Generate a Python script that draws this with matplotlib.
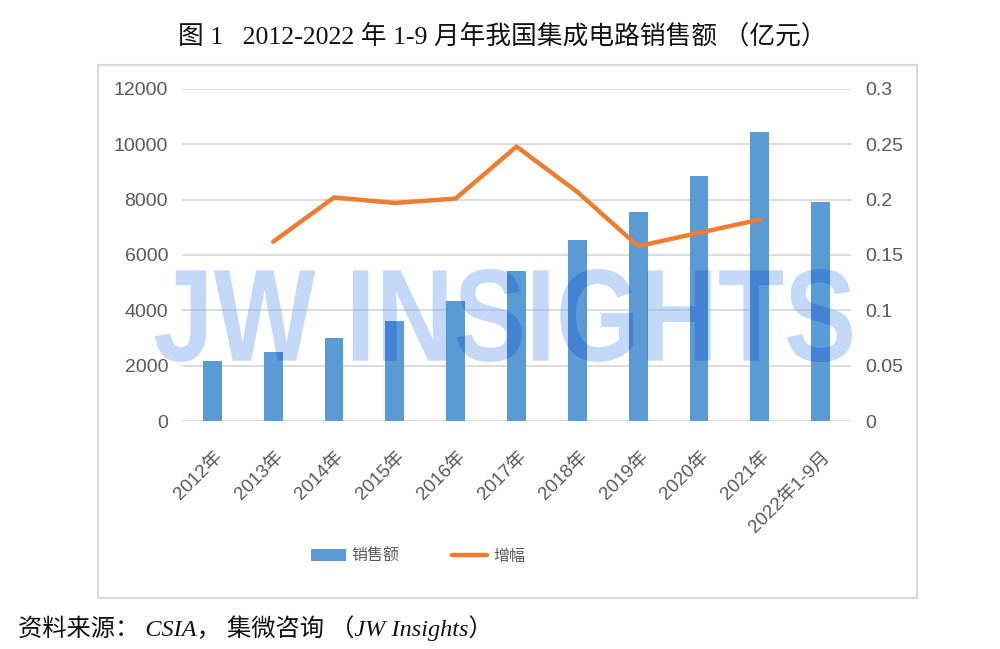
# 2012-2022 China IC sales with YoY growth, JW Insights style

import numpy as np
import matplotlib
matplotlib.use('Agg')
import matplotlib.pyplot as plt
from matplotlib.font_manager import FontProperties
from matplotlib.textpath import TextPath
from matplotlib.patches import PathPatch, Rectangle, Patch
from matplotlib.path import Path
from matplotlib.lines import Line2D
from matplotlib.transforms import Affine2D

labels = ['2012年', '2013年', '2014年', '2015年', '2016年', '2017年',
          '2018年', '2019年', '2020年', '2021年', '2022年1-9月']
sales = [2158.5, 2508.5, 3015.4, 3609.8, 4335.5, 5411.3,
         6532.0, 7562.3, 8848.0, 10458.3, 7902.5]
growth = [np.nan, 0.162, 0.202, 0.197, 0.201, 0.248,
          0.207, 0.158, 0.170, 0.182, np.nan]
left_ticks = [0, 2000, 4000, 6000, 8000, 10000, 12000]
right_ticks = [0, 0.05, 0.1, 0.15, 0.2, 0.25, 0.3]
right_tick_labels = ['0', '0.05', '0.1', '0.15', '0.2', '0.25', '0.3']

BLUE = '#5b9bd5'
ORANGE = '#ed7d31'
GREY = '#595959'
GRID = '#d9d9d9'

plt.rcParams['font.family'] = ['Liberation Sans', 'Noto Sans CJK SC']

fig = plt.figure(figsize=(10, 6.49), dpi=100)

# outer frame
fig.add_artist(Rectangle((0.098, 1 - 598 / 649), 0.819, (598 - 65) / 649,
                         transform=fig.transFigure, fill=False,
                         ec=GRID, lw=1.5))

ax = fig.add_axes([0.182, 1 - 421 / 649, 0.669, 332 / 649])
ax2 = ax.twinx()

x = np.arange(len(labels))
bars = ax.bar(x, sales, width=0.31, color=BLUE, zorder=2)
ax.set_xlim(-0.5, len(labels) - 0.5)
ax.set_ylim(0, 12000)
ax.set_yticks(left_ticks)
ax.grid(axis='y', color=GRID, lw=1.3, zorder=0)
ax.set_axisbelow(True)

ax2.plot(x, growth, color=ORANGE, lw=3.2, solid_capstyle='round',
         solid_joinstyle='round')
ax2.set_ylim(0, 0.3)
ax2.set_yticks(right_ticks, right_tick_labels)

for a in (ax, ax2):
    for s in a.spines.values():
        s.set_visible(False)
    a.tick_params(axis='y', length=0, pad=10, labelsize=14, labelcolor=GREY)

ax.set_xticks(x + 0.12, labels, rotation=45, ha='right', va='center',
              rotation_mode='anchor')
ax.tick_params(axis='x', length=0, pad=24, labelsize=13.5, labelcolor=GREY)

# watermark, darker where it crosses the bars
tp = TextPath((0, 0), 'JW INSIGHTS', size=1,
              prop=FontProperties(family='Liberation Sans', weight='bold'))
bb = tp.get_extents()
x0, x1 = 0.155, 0.852
y0, y1 = 1 - 362 / 649, 1 - 269 / 649
tr = (Affine2D().translate(-bb.x0, -bb.y0)
      .scale((x1 - x0) / bb.width, (y1 - y0) / bb.height)
      .translate(x0, y0) + fig.transFigure)
wm1 = PathPatch(tp, transform=tr, facecolor='#8ab4f1', alpha=0.5, lw=0,
                zorder=1, clip_on=False)
ax.add_artist(wm1)
wm2 = PathPatch(tp, transform=tr, facecolor='#4483d4', lw=0, zorder=2.5)
ax.add_artist(wm2)
rects = []
for r in bars:
    bx, by, bw, bh = r.get_x(), r.get_y(), r.get_width(), r.get_height()
    rects.append(Path([(bx, by), (bx + bw, by), (bx + bw, by + bh),
                       (bx, by + bh), (bx, by)], closed=True))
wm2.set_clip_path(Path.make_compound_path(*rects), ax.transData)

handles = [Patch(facecolor=BLUE),
           Line2D([], [], color=ORANGE, lw=3.2, solid_capstyle='round')]
fig.legend(handles, ['销售额', '增幅'], loc='center',
           bbox_to_anchor=(0.418, 1 - 556 / 649), ncol=2, frameon=False,
           fontsize=11.5, handlelength=2.2, handleheight=0.85,
           handletextpad=0.35, columnspacing=3.3, labelcolor=GREY)

fig.text(0.502, 1 - 36 / 649, '图 1   2012-2022 年 1-9 月年我国集成电路销售额 （亿元）',
         ha='center', va='center', fontsize=18.5,
         family=['Liberation Serif', 'Noto Sans CJK SC'], color='#111111')
fig.text(0.018, 1 - 628 / 649, '资料来源： CSIA， 集微咨询 （JW Insights）',
         ha='left', va='center', fontsize=17.5, style='italic',
         family=['Liberation Serif', 'Noto Sans CJK SC'], color='#111111')

fig.savefig('out.png', dpi=100)
